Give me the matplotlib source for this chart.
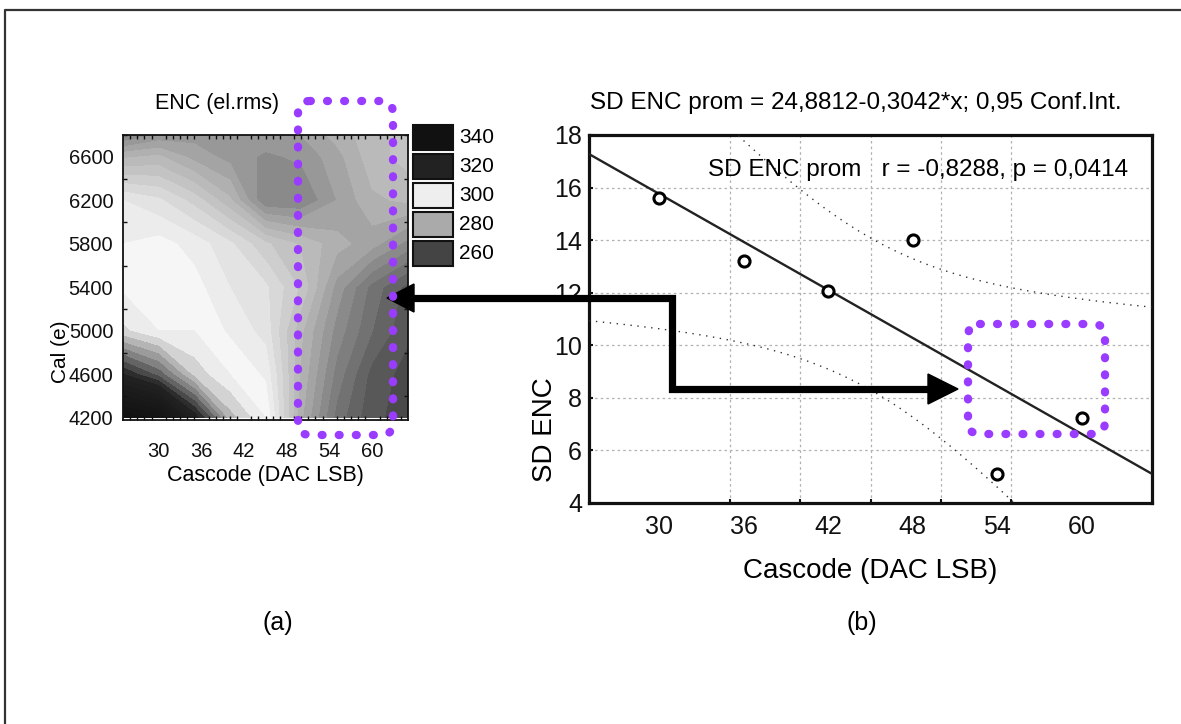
import numpy as np
import matplotlib
matplotlib.use('Agg')
import matplotlib.pyplot as plt
from matplotlib.colors import LinearSegmentedColormap, Normalize
from matplotlib.patches import Rectangle, FancyBboxPatch, Polygon
from matplotlib.lines import Line2D
from matplotlib.transforms import Affine2D

plt.rcParams['font.family'] = ['Liberation Sans', 'DejaVu Sans']

# ---------------- data: panel (a) ENC map ----------------
cascode_grid = [25, 30, 35, 40, 45, 50, 55, 60, 65]
cal_grid = [4200, 4600, 5000, 5400, 5800, 6200, 6600, 6800]
enc_grid = [
    [340, 337, 322, 306, 300, 280.5, 269, 263, 261.5],          # 4200
    [320, 314, 304, 300, 297, 282, 271.5, 264, 261.5],          # 4600
    [303, 300, 300, 297, 294, 283, 274, 267.5, 263],            # 5000
    [299.5, 300, 298.5, 295, 293, 287, 276.5, 269, 264],        # 5400
    [297.5, 298.5, 296.5, 293, 288, 284.5, 281, 278.5, 274],    # 5800
    [295, 293, 289, 283, 272.5, 272.5, 277.5, 282, 283],        # 6200
    [282, 283, 279, 276.5, 274.5, 275.5, 279, 284, 286],        # 6600
    [272, 275.5, 276.5, 276.5, 276.5, 277.5, 281, 284, 286],    # 6800
]
legend_levels = [340, 320, 300, 280, 260]
legend_colors = ['#111111', '#222222', '#eeeeee', '#aaaaaa', '#444444']
a_xticks = [30, 36, 42, 48, 54, 60]
a_yticks = [4200, 4600, 5000, 5400, 5800, 6200, 6600]

# ---------------- data: panel (b) SD ENC regression ----------------
cascode_pts = [30, 36, 42, 48, 54, 60]
sd_enc_pts = [15.6, 13.2, 12.05, 14.0, 5.1, 7.25]
fit_intercept = 24.8812
fit_slope = -0.3042
t_crit = 2.7764          # Student t, 0.95, df = 4
b_xticks = [30, 36, 42, 48, 54, 60]
b_yticks = [4, 6, 8, 10, 12, 14, 16, 18]

W, H = 1181, 724
fig = plt.figure(figsize=(W / 100, H / 100), dpi=100)
fig.patch.set_facecolor('white')
pix = Affine2D().scale(1 / W, -1 / H).translate(0, 1) + fig.transFigure


def ax_rect(l, t, r, b):
    return [l / W, 1 - b / H, (r - l) / W, (b - t) / H]


# ---------------- panel (a) ----------------
axa = fig.add_axes(ax_rect(123, 135, 408, 420))
gray_nodes = [(250, 0.22), (260, 0.27), (280, 0.67), (300, 0.985),
              (320, 0.133), (340, 0.067), (350, 0.05)]
vmin, vmax = 250, 350
cmap = LinearSegmentedColormap.from_list(
    'enc', [((v - vmin) / (vmax - vmin), (g, g, g)) for v, g in gray_nodes])
norm = Normalize(vmin, vmax)
X, Y = np.meshgrid(cascode_grid, cal_grid)
Z = np.array(enc_grid, dtype=float)
axa.contourf(X, Y, Z, levels=np.arange(250, 347.5, 2.5), cmap=cmap, norm=norm)
axa.set_xlim(25, 65)
axa.set_ylim(4180, 6800)
axa.set_xticks(a_xticks)
axa.set_yticks(a_yticks)
axa.set_xticks(np.arange(26, 65, 1), minor=True)
axa.set_yticks(np.arange(4200, 6801, 200), minor=True)
axa.tick_params(which='both', direction='in', top=True, right=True,
                length=3, width=1, colors='#111111', labelsize=14.5)
axa.tick_params(axis='x', which='major', length=0, pad=16)
axa.tick_params(axis='y', which='major', length=0, pad=7)
for s in axa.spines.values():
    s.set_linewidth(1.3)
    s.set_color('#111111')
axa.set_xlabel('Cascode (DAC LSB)', fontsize=15.5, labelpad=3)
fig.text(217 / W, 1 - 103 / H, 'ENC (el.rms)', fontsize=15.5,
         ha='center', va='center')
fig.text(60 / W, 1 - 352 / H, 'Cal (e)', fontsize=15, rotation=90,
         ha='center', va='center')

# legend boxes
for i, (lev, col) in enumerate(zip(legend_levels, legend_colors)):
    top = 125 + i * 29
    fig.add_artist(Rectangle((413, top), 40, 25, transform=pix,
                             facecolor=col, edgecolor='#111111', lw=1.5))
    fig.text(459 / W, 1 - (top + 12.5) / H, str(lev), fontsize=15,
             ha='left', va='center')

# ---------------- panel (b) ----------------
axb = fig.add_axes(ax_rect(589, 135, 1152, 503))
axb.set_xlim(25, 65)
axb.set_ylim(4, 18)
xs = np.linspace(25, 65, 400)
yhat = fit_intercept + fit_slope * xs
xp = np.array(cascode_pts, dtype=float)
yp = np.array(sd_enc_pts, dtype=float)
res = yp - (fit_intercept + fit_slope * xp)
n = len(xp)
s = np.sqrt(np.sum(res ** 2) / (n - 2))
hw = t_crit * s * np.sqrt(1 / n + (xs - xp.mean()) ** 2 / np.sum((xp - xp.mean()) ** 2))
axb.plot(xs, yhat, color='#222222', lw=1.7, zorder=3)
axb.plot(xs, yhat + hw, color='#333333', lw=1.0, ls=(0, (1, 4)), zorder=3)
axb.plot(xs, yhat - hw, color='#333333', lw=1.0, ls=(0, (1, 4)), zorder=3)
axb.plot(xp, yp, 'o', ms=8, mfc='white', mec='black', mew=2.2, zorder=4)
axb.set_xticks(b_xticks)
axb.set_xticks(np.arange(30, 61, 5), minor=True)
axb.set_yticks(b_yticks)
axb.grid(which='minor', axis='x', color='#b0b0b0', lw=0.9, ls=(0, (2, 2.5)))
axb.grid(which='major', axis='y', color='#b0b0b0', lw=0.9, ls=(0, (2, 2.5)))
axb.tick_params(which='both', direction='in', length=3, width=1.5,
                colors='#111111', labelsize=18)
axb.tick_params(axis='x', which='major', length=0, pad=9)
axb.tick_params(axis='y', which='major', pad=5)
for sp in axb.spines.values():
    sp.set_linewidth(2.3)
    sp.set_color('#111111')
axb.set_xlabel('Cascode (DAC LSB)', fontsize=20, labelpad=13)
fig.text(545 / W, 1 - 430 / H, 'SD ENC', fontsize=20, rotation=90,
         ha='center', va='center')
fig.text(856 / W, 1 - 103 / H, 'SD ENC prom = 24,8812-0,3042*x; 0,95 Conf.Int.',
         fontsize=17.5, ha='center', va='center')
axb.text(0.958, 0.905, 'SD ENC prom   r = -0,8288, p = 0,0414',
         transform=axb.transAxes, fontsize=17.5, ha='right', va='center')

# ---------------- captions ----------------
fig.text(278 / W, 1 - 623 / H, '(a)', fontsize=18, ha='center', va='center')
fig.text(862 / W, 1 - 623 / H, '(b)', fontsize=18, ha='center', va='center')

# ---------------- overlays: arrows ----------------
fig.add_artist(Line2D([410, 672, 672, 930], [298, 298, 389, 389], transform=pix,
                      color='black', lw=5.2, solid_joinstyle='miter', zorder=10))
fig.add_artist(Polygon([[387, 298], [414, 284], [414, 312]], closed=True,
                       transform=pix, color='black', zorder=10))
fig.add_artist(Polygon([[958, 389], [928, 374], [928, 404]], closed=True,
                       transform=pix, color='black', zorder=10))

# ---------------- overlays: purple dotted boxes ----------------
purple = '#9a3cff'
for (l, t, r, b) in [(298, 101, 393, 435), (968, 324, 1105, 434)]:
    fig.add_artist(FancyBboxPatch((l, t), r - l, b - t,
                                  boxstyle='round,pad=0,rounding_size=12',
                                  transform=pix, facecolor='none',
                                  edgecolor=purple, lw=6,
                                  ls=(0, (0.1, 1.95)), capstyle='round',
                                  zorder=11))

# ---------------- outer frame ----------------
fig.add_artist(Line2D([5, 5, W], [H, 10, 10], transform=pix, color='#333333',
                      lw=1.6, zorder=12))

fig.savefig('out.png', dpi=100, facecolor='white')
